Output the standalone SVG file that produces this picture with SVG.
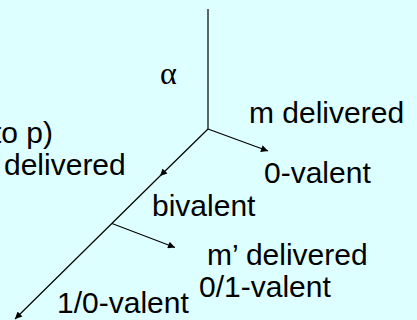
<svg xmlns="http://www.w3.org/2000/svg" width="417" height="320" viewBox="0 0 417 320">
  <style>
    .lbl { font-family: "Liberation Sans", Arial, sans-serif; font-size: 30px; fill: #000; }
    .greek { font-family: "Liberation Serif", "DejaVu Serif", serif; font-size: 32px; fill: #000; }
    .edge { stroke: #000; stroke-width: 1.2; fill: none; }
  </style>
  <defs>
    <marker id="arr" viewBox="0 0 10 10" refX="10" refY="5" markerWidth="10" markerHeight="7" markerUnits="userSpaceOnUse" orient="auto">
      <path d="M0,0 L10,5 L0,10 Z" fill="#000"/>
    </marker>
  </defs>
  <rect width="417" height="320" fill="#DDFFFF"/>
  <g id="connectors">
    <line class="edge" x1="208" y1="9" x2="208" y2="129"/>
    <line class="edge" x1="208" y1="129" x2="268" y2="151" marker-end="url(#arr)"/>
    <polyline class="edge" points="208,129 160,176 15,319" marker-mid="url(#arr)" marker-end="url(#arr)"/>
    <line class="edge" x1="112" y1="223.5" x2="175" y2="247.5" marker-end="url(#arr)"/>
  </g>
  <g id="alpha"><text class="greek" x="160" y="84">α</text></g>
  <g id="m-delivered"><text class="lbl" x="249" y="123">m delivered</text></g>
  <g id="zero-valent"><text class="lbl" x="264" y="183">0-valent</text></g>
  <g id="to-p"><text class="lbl" x="53" y="143" text-anchor="end">to p)</text></g>
  <g id="delivered-left"><text class="lbl" x="4" y="175">delivered</text></g>
  <g id="bivalent"><text class="lbl" x="152" y="216">bivalent</text></g>
  <g id="m-prime-delivered"><text class="lbl" x="207" y="265">m’ delivered</text></g>
  <g id="zero-one-valent"><text class="lbl" x="199" y="297">0/1-valent</text></g>
  <g id="one-zero-valent"><text class="lbl" x="57" y="313">1/0-valent</text></g>
</svg>
